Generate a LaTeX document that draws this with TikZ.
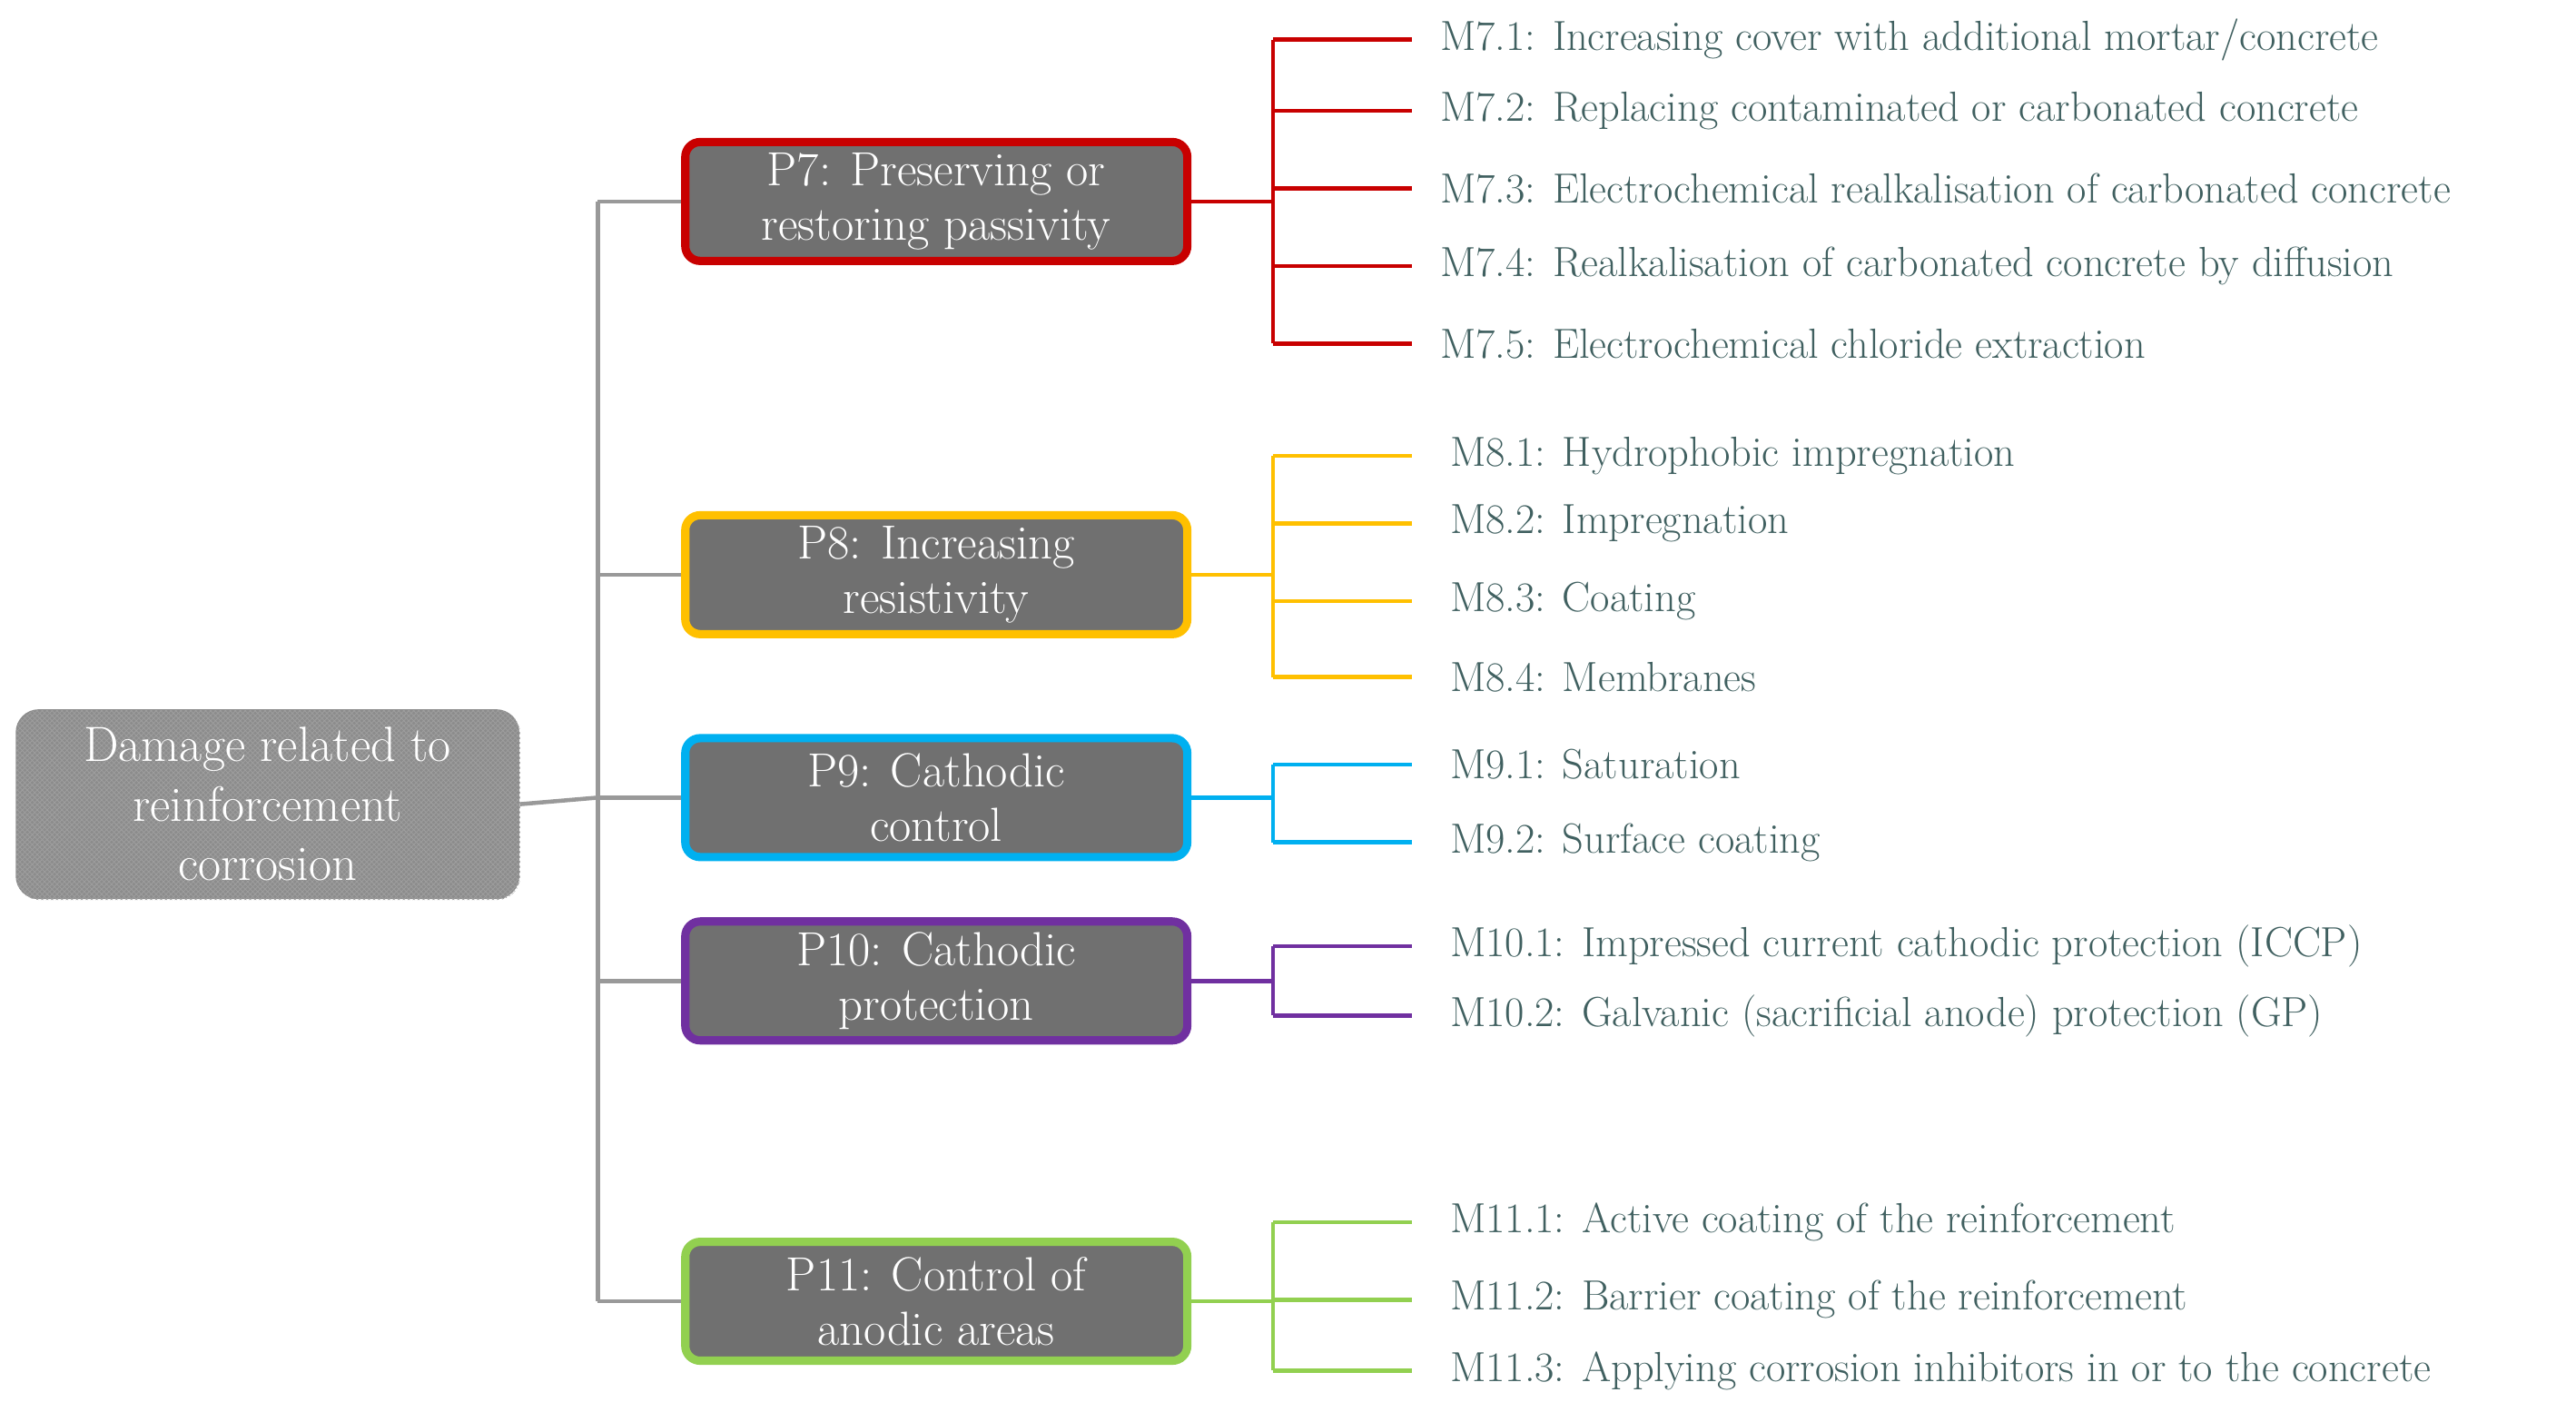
\documentclass[tikz,border=0pt]{standalone}
\usetikzlibrary{patterns}
\definecolor{txt}{RGB}{64,96,96}
\definecolor{boxg}{RGB}{112,112,112}
\definecolor{c7}{RGB}{200,0,0}
\definecolor{c8}{RGB}{255,192,0}
\definecolor{c9}{RGB}{0,176,240}
\definecolor{c10}{RGB}{112,48,160}
\definecolor{c11}{RGB}{146,208,80}
\begin{document}
\begin{tikzpicture}[x=1pt,y=-1pt,
 pbox/.style={draw=#1,line width=5pt,fill=boxg,rounded corners=9pt,minimum width=304pt,minimum height=72pt,text=white,font=\fontsize{29}{33}\selectfont,align=center,inner sep=0pt},
 mt/.style={anchor=west,text=txt,font=\fontsize{25.5}{28}\selectfont,inner sep=0pt},
 gl/.style={draw=gray!80,line width=2.5pt},
 cl/.style={draw=#1,line width=2.5pt}]
\useasboundingbox (0,0) rectangle (1560,855);
\node[rounded corners=14pt,fill=gray!110!black,minimum width=305pt,minimum height=115pt,inner sep=0pt] (r) at (162,487) {};
\fill[pattern=crosshatch,pattern color=gray!75,rounded corners=14pt] (10,430) rectangle (315,545);
\node[text=white,font=\fontsize{30}{36}\selectfont,align=center] (rt) at (162,487) {Damage related to\\reinforcement\\corrosion};
\coordinate (tr) at (362,483);
\draw[gl] (r.east) -- (tr);
\draw[gl] (362,122) -- (362,788);
\foreach \n/\c/\y/\t in {7/c7/122/{P7: Preserving or\\restoring passivity},8/c8/348/{P8: Increasing\\resistivity},9/c9/483/{P9: Cathodic\\control},10/c10/594/{P10: Cathodic\\protection},11/c11/788/{P11: Control of\\anodic areas}}{
 \coordinate (t\n) at (362,\y);
 \node[pbox=\c] (p\n) at (567,\y) {\t};
 \draw[gl] (t\n) -- (p\n.west);
 \coordinate (b\n) at (771,\y);
 \draw[cl=\c] (p\n.east) -- (b\n);
}
\foreach \y/\t [count=\i] in {24/{M7.1: Increasing cover with additional mortar/concrete},67/{M7.2: Replacing contaminated or carbonated concrete},114/{M7.3: Electrochemical realkalisation of carbonated concrete},161/{M7.4: Realkalisation of carbonated concrete by diffusion},208/{M7.5: Electrochemical chloride extraction}}{
 \coordinate (a7\i) at (771,\y); \node[mt] (m7\i) at (872,\y) {\t}; \draw[cl=c7] (a7\i) -- (855,\y);}
\draw[cl=c7] (a71) -- (a75);
\foreach \y/\t [count=\i] in {276/{M8.1: Hydrophobic impregnation},317/{M8.2: Impregnation},364/{M8.3: Coating},410/{M8.4: Membranes}}{
 \coordinate (a8\i) at (771,\y); \node[mt] (m8\i) at (878,\y) {\t}; \draw[cl=c8] (a8\i) -- (855,\y);}
\draw[cl=c8] (a81) -- (a84);
\foreach \y/\t [count=\i] in {463/{M9.1: Saturation},510/{M9.2: Surface coating}}{
 \coordinate (a9\i) at (771,\y); \node[mt] (m9\i) at (878,\y) {\t}; \draw[cl=c9] (a9\i) -- (855,\y);}
\draw[cl=c9] (a91) -- (a92);
\foreach \y/\t [count=\i] in {573/{M10.1: Impressed current cathodic protection (ICCP)},615/{M10.2: Galvanic (sacrificial anode) protection (GP)}}{
 \coordinate (a10\i) at (771,\y); \node[mt] (m10\i) at (878,\y) {\t}; \draw[cl=c10] (a10\i) -- (855,\y);}
\draw[cl=c10] (a101) -- (a102);
\foreach \y/\t [count=\i] in {740/{M11.1: Active coating of the reinforcement},787/{M11.2: Barrier coating of the reinforcement},830/{M11.3: Applying corrosion inhibitors in or to the concrete}}{
 \coordinate (a11\i) at (771,\y); \node[mt] (m11\i) at (878,\y) {\t}; \draw[cl=c11] (a11\i) -- (855,\y);}
\draw[cl=c11] (a111) -- (a113);
\end{tikzpicture}
\end{document}
